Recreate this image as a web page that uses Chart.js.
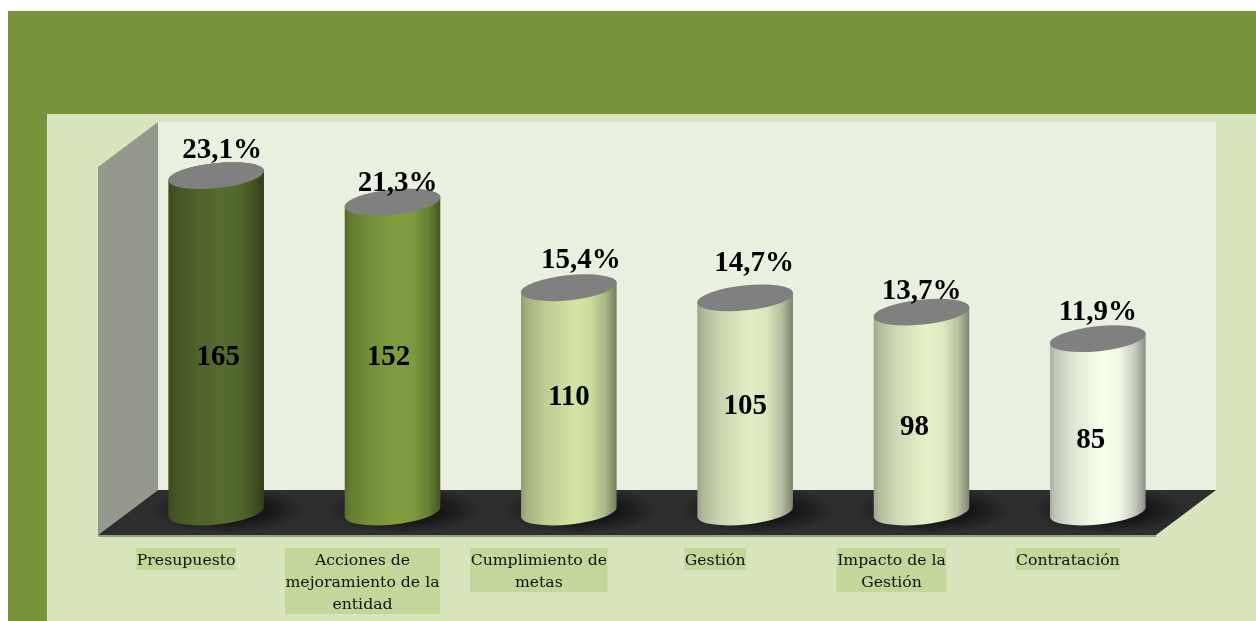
<!DOCTYPE html>
<html>
<head>
<meta charset="utf-8">
<style>
  html, body { margin: 0; padding: 0; background: #fff; overflow: hidden; }
  canvas { display: block; }
</style>
<script src="https://cdn.jsdelivr.net/npm/chart.js@4/dist/chart.umd.min.js"></script>
</head>
<body>
<canvas id="grafica" width="1256" height="621"></canvas>
<script>
// Datos
const categorias = [
  "Presupuesto",
  ["Acciones de", "mejoramiento de la", "entidad"],
  ["Cumplimiento de", "metas"],
  "Gestión",
  ["Impacto de la", "Gestión"],
  "Contratación"
];
const valores = [165, 152, 110, 105, 98, 85];
const porcentajes = ["23,1%", "21,3%", "15,4%", "14,7%", "13,7%", "11,9%"];
const coloresBarras = ["#566b2d", "#809e3f", "#d2e3a3", "#e2edc4", "#e6f1c9", "#f8ffec"];

// Ajustes manuales de etiquetas (en el original estan movidas a mano)
const ajustePct = [[6, -25], [5, -19], [12, -27], [9, -34], [0, -21], [0, -26]];
const ajusteVal = [[2, 14], [-4, 0], [0, -2], [0, 2], [-7, 15], [-7, 15]];

const fuenteSerif = '"Liberation Serif", serif';
const fuenteEjes = '"DejaVu Serif", serif';
const TAM_EJE = 15.7;
const ALTO_LINEA = 22;
const INCLINACION = -6 * Math.PI / 180;
const RADIO_Y = 12.5;

// Oscurecer un color hex
function sombra(hex, f) {
  const n = parseInt(hex.slice(1), 16);
  const r = Math.round((n >> 16) * f);
  const g = Math.round(((n >> 8) & 255) * f);
  const b = Math.round((n & 255) * f);
  return `rgb(${r},${g},${b})`;
}

// Fondo: paneles, pared lateral, piso y cajas de las etiquetas
const fondo = {
  id: "fondo",
  beforeDraw(chart) {
    const c = chart.ctx;
    c.save();
    c.fillStyle = "#78933a";
    c.fillRect(8, 11, 1248, 610);
    c.fillStyle = "#d8e4bc";
    c.fillRect(47, 114, 1209, 507);
    c.fillStyle = "#e9f0df";
    c.fillRect(158, 122, 1058, 368);

    c.fillStyle = "#95988d";
    c.beginPath();
    c.moveTo(98, 167); c.lineTo(158, 122); c.lineTo(158, 490); c.lineTo(98, 535);
    c.closePath();
    c.fill();

    c.fillStyle = "#2e2e2e";
    c.beginPath();
    c.moveTo(98, 535); c.lineTo(158, 490); c.lineTo(1216, 490); c.lineTo(1156, 535);
    c.closePath();
    c.fill();

    c.fillStyle = "#9a9c92";
    c.fillRect(98, 535, 1058, 2);

    // backdrop propio: el de Chart.js se pinta encima de cada linea
    const x = chart.scales.x;
    c.font = `${TAM_EJE}px ${fuenteEjes}`;
    c.fillStyle = "#c4d79b";
    categorias.forEach((etq, i) => {
      const lineas = Array.isArray(etq) ? etq : [etq];
      const ancho = Math.max(...lineas.map(l => c.measureText(l).width)) + 1;
      const centro = x.getPixelForTick(i) + x.options.ticks.labelOffset;
      c.fillRect(centro - ancho / 2, x.top + x.options.ticks.padding + 6, ancho, lineas.length * ALTO_LINEA);
    });
    c.restore();
  }
};

// Dibuja cada barra como cilindro a partir de los elementos de Chart.js
const cilindros = {
  id: "cilindros",
  beforeDatasetDraw(chart, args) {
    const c = chart.ctx;
    const barras = args.meta.data;

    // Sombra sobre el piso
    c.save();
    c.beginPath();
    c.moveTo(98, 535); c.lineTo(158, 490); c.lineTo(1216, 490); c.lineTo(1156, 535);
    c.closePath();
    c.clip();
    barras.forEach(b => {
      c.save();
      c.translate(b.x + 12, b.base - 2);
      c.scale(1, 0.3);
      const r = b.width * 0.8;
      const g = c.createRadialGradient(0, 0, b.width * 0.4, 0, 0, r);
      g.addColorStop(0, "rgba(15,15,15,0.75)");
      g.addColorStop(1, "rgba(15,15,15,0)");
      c.fillStyle = g;
      c.beginPath();
      c.arc(0, 0, r, 0, Math.PI * 2);
      c.fill();
      c.restore();
    });
    c.restore();

    barras.forEach((b, i) => {
      const rx = b.width / 2;
      const base = coloresBarras[i];
      const izq = b.x - rx;
      const g = c.createLinearGradient(izq, 0, izq + b.width, 0);
      g.addColorStop(0, sombra(base, 0.68));
      g.addColorStop(0.06, sombra(base, 0.78));
      g.addColorStop(0.25, sombra(base, 0.9));
      g.addColorStop(0.55, sombra(base, 1));
      g.addColorStop(0.72, sombra(base, 0.97));
      g.addColorStop(0.88, sombra(base, 0.8));
      g.addColorStop(1, sombra(base, 0.55));

      c.save();
      c.fillStyle = g;
      c.beginPath();
      c.ellipse(b.x, b.base, rx, RADIO_Y, INCLINACION, 0, Math.PI);
      c.ellipse(b.x, b.y, rx, RADIO_Y, INCLINACION, Math.PI, Math.PI * 2);
      c.closePath();
      c.fill();

      c.fillStyle = "#808080";
      c.beginPath();
      c.ellipse(b.x, b.y, rx, RADIO_Y, INCLINACION, 0, Math.PI * 2);
      c.fill();
      c.restore();
    });
    return false;
  },
  afterDatasetsDraw(chart) {
    const c = chart.ctx;
    const barras = chart.getDatasetMeta(0).data;
    c.save();
    c.fillStyle = "#000";
    c.textAlign = "center";
    c.textBaseline = "middle";
    c.font = `bold 29px ${fuenteSerif}`;
    barras.forEach((b, i) => {
      c.fillText(porcentajes[i], b.x + ajustePct[i][0], b.y + ajustePct[i][1]);
      const medio = (b.y + b.base) / 2;
      c.fillText(String(valores[i]), b.x + ajusteVal[i][0], medio + ajusteVal[i][1]);
    });
    c.restore();
  }
};

new Chart(document.getElementById("grafica"), {
  type: "bar",
  data: {
    labels: categorias,
    datasets: [{
      data: valores,
      backgroundColor: coloresBarras,
      barPercentage: 0.545,
      categoryPercentage: 1
    }]
  },
  options: {
    responsive: false,
    animation: false,
    layout: { padding: { left: 128, right: 70, top: 145, bottom: 0 } },
    plugins: { legend: { display: false }, title: { display: false }, tooltip: { enabled: false } },
    scales: {
      y: { display: false, min: 0, max: 180 },
      x: {
        afterFit(scale) { scale.height = 109; },
        grid: { display: false },
        border: { display: false },
        ticks: {
          autoSkip: false,
          maxRotation: 0,
          minRotation: 0,
          padding: 30,
          labelOffset: -30,
          color: "#111",
          font: { family: fuenteEjes, size: TAM_EJE, lineHeight: ALTO_LINEA + "px" }
        }
      }
    }
  },
  plugins: [fondo, cilindros]
});
</script>
</body>
</html>
